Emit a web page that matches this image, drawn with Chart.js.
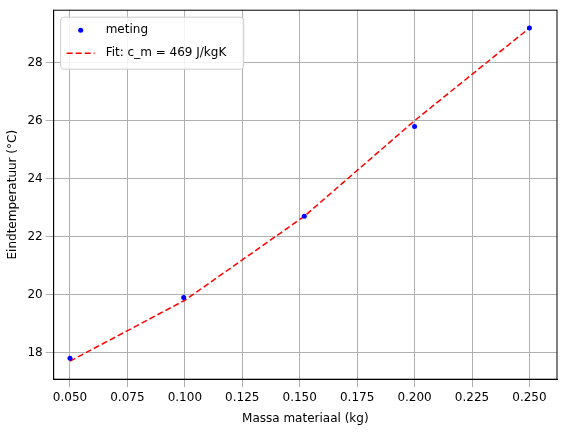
<!DOCTYPE html>
<html><head><script src="https://cdn.jsdelivr.net/npm/chart.js"></script>
<style>html,body{margin:0;background:#fff}#w{width:563px;height:432px}</style></head>
<body><div id="w"><canvas id="c"></canvas></div>
<script>
const massa=[0.05,0.0995,0.152,0.2,0.25];
const meting=[17.8,19.9,22.7,25.8,29.2];
const fitX=[0.05,0.1,0.152,0.2,0.25];
const fitY=[17.7,19.8,22.7,26.0,29.2];
const xTicks=[0.05,0.075,0.1,0.125,0.15,0.175,0.2,0.225,0.25];
const yTicks=[18,20,22,24,26,28];
const labels=['meting','Fit: c_m = 469 J/kgK'];
const font={family:'DejaVu Sans',size:12};
const inside={id:'inside',afterDraw(ch){
 const c=ch.ctx,a=ch.chartArea;
 c.save();c.strokeStyle='#000';c.lineWidth=1;c.strokeRect(a.left,a.top,a.right-a.left,a.bottom-a.top);
 const x=a.left+7,y=a.top+7,w=183,h=52;
 c.fillStyle='rgba(255,255,255,0.85)';c.strokeStyle='#ccc';
 c.beginPath();c.roundRect(x,y,w,h,3);c.fill();c.stroke();
 c.fillStyle='#0000ff';c.beginPath();c.arc(x+20,y+13,2.5,0,7);c.fill();
 c.strokeStyle='#ff0000';c.lineWidth=1.5;c.setLineDash([6,3]);c.beginPath();c.moveTo(x+6,y+36);c.lineTo(x+34,y+36);c.stroke();c.setLineDash([]);
 c.fillStyle='#000';c.font='12px DejaVu Sans';c.textBaseline='middle';
 c.fillText(labels[0],x+45,y+13);c.fillText(labels[1],x+45,y+36);c.restore();}};
new Chart(document.getElementById('c'),{
type:'scatter',
data:{datasets:[
{label:labels[0],data:massa.map((x,i)=>({x,y:meting[i]})),backgroundColor:'#0000ff',borderColor:'#0000ff',pointRadius:2.5,borderWidth:0,showLine:false},
{label:labels[1],data:fitX.map((x,i)=>({x,y:fitY[i]})),borderColor:'#ff0000',backgroundColor:'#ff0000',borderDash:[6,3],borderWidth:1.5,pointRadius:0,showLine:true}
]},
plugins:[inside],
options:{responsive:true,maintainAspectRatio:false,animation:false,
layout:{padding:{top:8,right:6,left:2,bottom:2}},
plugins:{legend:{display:false},tooltip:{enabled:false}},
scales:{
x:{type:'linear',min:0.0429,max:0.262,afterBuildTicks:a=>{a.ticks=xTicks.map(v=>({value:v}))},
ticks:{font,color:'#000',callback:v=>v.toFixed(3)},grid:{color:'#b0b0b0'},border:{color:'#000'},
title:{display:true,text:'Massa materiaal (kg)',font,color:'#000'}},
y:{min:17.075,max:29.815,afterBuildTicks:a=>{a.ticks=yTicks.map(v=>({value:v}))},
ticks:{font,color:'#000'},grid:{color:'#b0b0b0'},border:{color:'#000'},
title:{display:true,text:'Eindtemperatuur (°C)',font,color:'#000'}}
}}
});
</script></body></html>
